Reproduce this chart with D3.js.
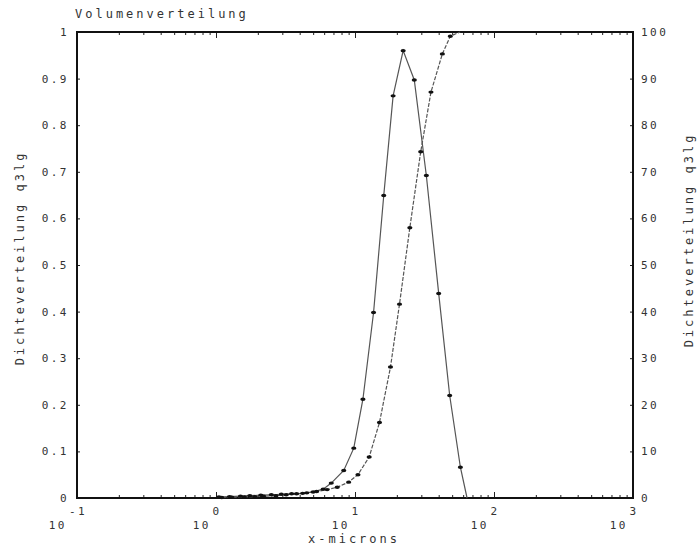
<!DOCTYPE html>
<html>
<head>
<meta charset="utf-8">
<script src="https://cdn.jsdelivr.net/npm/d3@7"></script>
<style>
  body { margin: 0; background: #fff; }
  text { font-family: "DejaVu Sans Mono", monospace; font-size: 11px; fill: #333; letter-spacing: 2.5px; }
  text.title { font-size: 12px; letter-spacing: 3px; }
</style>
</head>
<body>
<div class="chart"></div>
<script>
// density q3lg (left axis)
var densX = [1.05, 1.25, 1.5, 1.75, 2.1, 2.5, 2.95, 3.5, 4.2, 5.0, 5.9, 6.75, 8.3, 9.8, 11.4, 13.6, 16.1, 18.8, 22.2, 26.7, 32.6, 40.0, 48.0, 57.3, 64.0];
var densY = [0.002, 0.003, 0.004, 0.005, 0.006, 0.007, 0.008, 0.009, 0.010, 0.013, 0.019, 0.032, 0.059, 0.107, 0.212, 0.398, 0.649, 0.863, 0.960, 0.897, 0.692, 0.439, 0.220, 0.066, 0];
var densMark = 24; // last point has no marker

// cumulative in percent (right axis)
var cumX = [1.1, 1.3, 1.6, 1.9, 2.2, 2.7, 3.2, 3.8, 4.5, 5.3, 6.3, 7.45, 9.0, 10.5, 12.65, 15.0, 18.0, 20.9, 24.8, 29.7, 35.2, 42.5, 48.5, 57.0];
var cumY = [0.1, 0.15, 0.2, 0.3, 0.4, 0.5, 0.7, 0.9, 1.1, 1.4, 1.8, 2.3, 3.4, 5.0, 8.8, 16.2, 28.1, 41.6, 58.0, 74.3, 87.1, 95.3, 99.1, 100];

var leftTicks = [0, 0.1, 0.2, 0.3, 0.4, 0.5, 0.6, 0.7, 0.8, 0.9, 1];
var rightTicks = [0, 10, 20, 30, 40, 50, 60, 70, 80, 90, 100];
var xMajor = [0.1, 1, 10, 100, 1000];
var xExp = ["-1", "0", "1", "2", "3"];

var W = 697, H = 550,
    x0 = 77, x1 = 633, y0 = 498, y1 = 32;

var svg = d3.select(".chart").append("svg")
    .attr("width", W).attr("height", H);

var x = d3.scaleLog().domain([0.1, 1000]).range([x0, x1]);
var yl = d3.scaleLinear().domain([0, 1]).range([y0, y1]);
var yr = d3.scaleLinear().domain([0, 100]).range([y0, y1]);

var xMinor = x.ticks().filter(d => xMajor.indexOf(d) < 0);

// axes with inward ticks
function ax(g) { g.select(".domain").remove(); g.selectAll("text").remove(); g.selectAll("line").attr("stroke", "#222"); }

svg.append("g").attr("transform", "translate(0," + y0 + ")")
   .call(d3.axisBottom(x).tickValues(xMinor).tickSize(-3)).call(ax);
svg.append("g").attr("transform", "translate(0," + y0 + ")")
   .call(d3.axisBottom(x).tickValues(xMajor).tickSize(-6)).call(ax);
svg.append("g").attr("transform", "translate(0," + y1 + ")")
   .call(d3.axisTop(x).tickValues(xMinor).tickSize(-3)).call(ax);
svg.append("g").attr("transform", "translate(0," + y1 + ")")
   .call(d3.axisTop(x).tickValues(xMajor).tickSize(-6)).call(ax);
svg.append("g").attr("transform", "translate(" + x0 + ",0)")
   .call(d3.axisLeft(yl).tickValues(leftTicks).tickSize(-3)).call(ax);
svg.append("g").attr("transform", "translate(" + x1 + ",0)")
   .call(d3.axisRight(yr).tickValues(rightTicks).tickSize(-3)).call(ax);

// frame
svg.append("rect")
   .attr("x", x0).attr("y", y1)
   .attr("width", x1 - x0).attr("height", y0 - y1)
   .attr("fill", "none").attr("stroke", "#111").attr("stroke-width", 2);

// tick labels
svg.selectAll(".ll").data(leftTicks).enter().append("text")
   .attr("x", 69).attr("y", d => yl(d) + 4)
   .attr("text-anchor", "end")
   .text(d => d === 0 || d === 1 ? d : d.toFixed(1));

svg.selectAll(".rl").data(rightTicks).enter().append("text")
   .attr("x", 641).attr("y", d => yr(d) + 4)
   .text(d => d);

xMajor.forEach((d, i) => {
  svg.append("text").attr("x", x(d) - (i === 0 ? 10 : 5)).attr("y", 529)
     .attr("text-anchor", "end").text("10");
  svg.append("text").attr("x", x(d) + 1).attr("y", 515)
     .attr("text-anchor", "middle").text(xExp[i]);
});

// titles
svg.append("text").attr("class", "title").attr("x", 75).attr("y", 18).text("Volumenverteilung");
svg.append("text").attr("class", "title").attr("x", 354).attr("y", 543)
   .attr("text-anchor", "middle").text("x-microns");
svg.append("text").attr("class", "title").attr("transform", "translate(24,258) rotate(-90)")
   .attr("text-anchor", "middle").text("Dichteverteilung q3lg");
svg.append("text").attr("class", "title").attr("transform", "translate(693,240) rotate(-90)")
   .attr("text-anchor", "middle").text("Dichteverteilung q3lg");

// curves
var dens = densX.map((d, i) => [d, densY[i]]);
var cum = cumX.map((d, i) => [d, cumY[i]]);

svg.append("path").datum(dens)
   .attr("d", d3.line().x(d => x(d[0])).y(d => yl(d[1])))
   .attr("fill", "none").attr("stroke", "#555").attr("stroke-width", 1.2);
svg.append("path").datum(cum)
   .attr("d", d3.line().x(d => x(d[0])).y(d => yr(d[1])))
   .attr("fill", "none").attr("stroke", "#555").attr("stroke-width", 1.2)
   .attr("stroke-dasharray", "4,1.5");

svg.selectAll(".dm").data(dens.slice(0, densMark)).enter().append("ellipse")
   .attr("cx", d => x(d[0])).attr("cy", d => yl(d[1]))
   .attr("rx", 2.6).attr("ry", 1.7).attr("fill", "#111");
svg.selectAll(".cm").data(cum.slice(0, cum.length - 1)).enter().append("ellipse")
   .attr("cx", d => x(d[0])).attr("cy", d => yr(d[1]))
   .attr("rx", 2.6).attr("ry", 1.7).attr("fill", "#111");
</script>
</body>
</html>
